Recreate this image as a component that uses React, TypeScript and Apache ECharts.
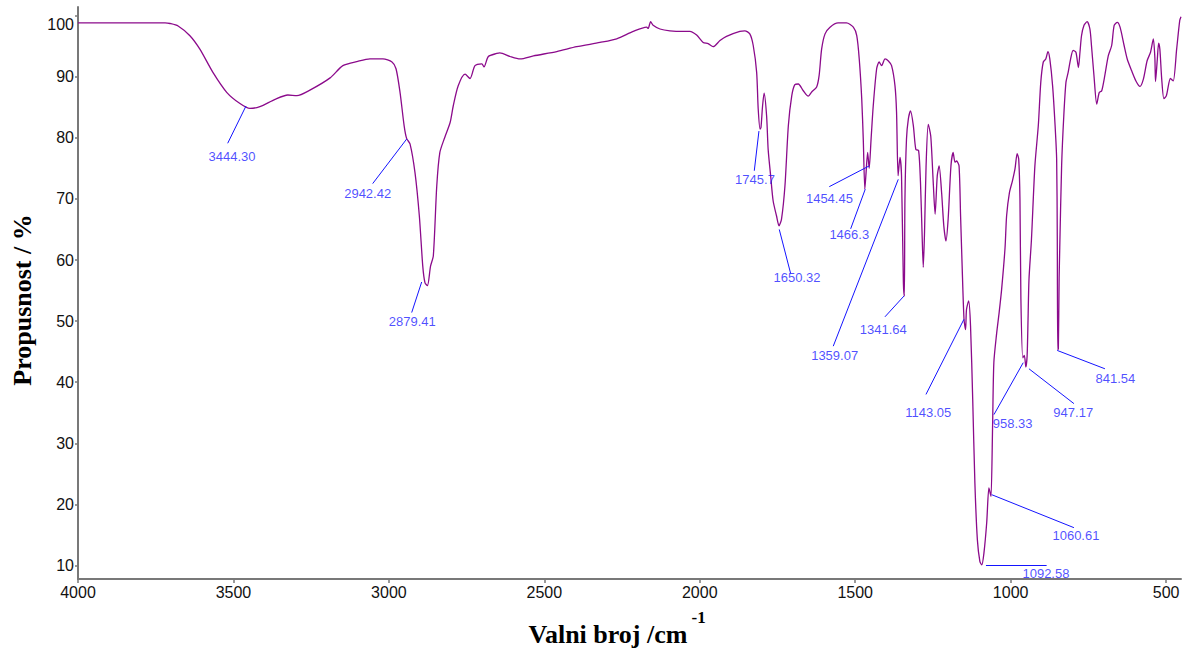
import React, { useEffect, useRef } from "react";
import * as echarts from "echarts";

// Spectrum: wavenumber (cm-1) and transmittance (%)
const wavenumbers = [
  4000, 3850, 3720, 3704, 3678, 3640, 3608, 3566, 3521, 3479, 3447, 3415, 3366, 3325, 3296, 3254, 3189, 3148, 3100, 3061,
  3019, 2990, 2977, 2964, 2951, 2943, 2932, 2916, 2902, 2891, 2884, 2876, 2866, 2857, 2846, 2836, 2820, 2803, 2793, 2777,
  2755, 2739, 2723, 2701, 2694, 2680, 2653, 2643, 2610, 2578, 2535, 2460, 2396, 2321, 2267, 2214, 2171, 2166, 2158, 2150,
  2128, 2096, 2053, 2032, 2010, 1989, 1973, 1957, 1935, 1914, 1871, 1855, 1839, 1828, 1817, 1812, 1806, 1803, 1798, 1793,
  1785, 1780, 1772, 1764, 1753, 1745, 1737, 1726, 1715, 1704, 1694, 1683, 1667, 1651, 1640, 1624, 1616, 1608, 1597, 1581,
  1555, 1528, 1506, 1495, 1487, 1479, 1474, 1469, 1465, 1460, 1455, 1449, 1442, 1431, 1423, 1415, 1404, 1394, 1383, 1372,
  1367, 1362, 1356, 1351, 1345, 1342, 1340, 1335, 1329, 1322, 1313, 1305, 1296, 1290, 1285, 1281, 1277, 1272, 1265, 1257,
  1249, 1243, 1236, 1230, 1222, 1215, 1208, 1201, 1192, 1185, 1179, 1174, 1166, 1161, 1156, 1150, 1145, 1142, 1135, 1129,
  1122, 1115, 1107, 1099, 1093, 1086, 1077, 1070, 1066, 1063, 1058, 1054, 1045, 1037, 1029, 1018, 1013, 1004, 994, 986,
  979, 974, 970, 967, 961, 956, 951, 947, 944, 941, 933, 922, 911, 903, 895, 887, 880, 874, 865, 857,
  852, 850, 848.5, 846.5, 844, 842, 836, 829, 822, 815, 807, 799, 790, 782, 777, 772, 764, 754, 745, 740,
  732, 723, 715, 707, 697, 686, 675, 667, 657, 648, 635, 625, 611, 597, 584, 573, 561, 550, 541, 536,
  534, 528, 524, 520, 514, 507, 499, 486, 477, 466, 456, 452
];
const transmittance = [
  98.8, 98.8, 98.8, 98.7, 98.3, 96.7, 94.5, 90.7, 87.4, 85.6, 84.8, 85.1, 86.3, 87.0, 86.9, 87.8, 89.8, 91.8, 92.5, 92.9,
  92.9, 92.4, 91.3, 87.4, 82.0, 79.9, 79.0, 74.3, 67.2, 59.0, 56.3, 55.8, 59.0, 60.7, 72.1, 77.6, 80.1, 82.5, 85.2, 88.5,
  90.4, 89.7, 91.8, 92.1, 91.6, 93.3, 93.8, 93.9, 93.3, 92.9, 93.4, 94.1, 94.9, 95.6, 96.2, 97.4, 98.1, 97.9, 99.0, 98.4,
  97.8, 97.5, 97.4, 97.4, 96.8, 95.6, 95.4, 94.9, 95.9, 96.6, 97.4, 97.5, 97.0, 95.1, 90.7, 84.7, 81.4, 81.7, 85.2, 87.3,
  83.6, 78.1, 73.8, 69.7, 67.2, 65.6, 66.7, 72.1, 82.0, 86.9, 88.7, 88.8, 87.7, 86.8, 87.5, 88.3, 90.2, 94.5, 97.0, 98.1,
  98.8, 98.8, 98.1, 96.7, 92.9, 86.4, 79.7, 71.6, 74.3, 77.6, 75.0, 79.7, 85.2, 91.3, 92.4, 91.8, 92.9, 92.6, 91.8, 88.5,
  84.2, 73.8, 76.8, 73.8, 56.3, 54.1, 69.9, 79.8, 83.1, 84.4, 82.0, 78.1, 77.9, 72.7, 64.5, 58.8, 64.5, 75.4, 82.2, 80.3,
  72.7, 67.5, 73.8, 75.4, 71.0, 65.6, 63.1, 66.7, 75.4, 77.6, 76.0, 76.2, 75.4, 67.2, 59.0, 50.3, 48.6, 51.9, 53.3, 49.2,
  37.2, 23.5, 14.2, 10.7, 10.1, 12.0, 17.0, 22.7, 21.9, 21.3, 33.0, 43.2, 48.0, 51.4, 55.2, 62.0, 67.2, 71.0, 73.0, 74.9,
  77.4, 76.5, 69.9, 53.6, 44.0, 44.4, 42.5, 44.3, 50.3, 56.8, 63.4, 75.4, 82.0, 89.1, 92.4, 92.9, 94.1, 92.9, 88.5, 82.0,
  76.5, 64.0, 45.3, 45.5, 57.0, 62.0, 75.4, 83.6, 89.1, 90.7, 92.9, 94.3, 94.0, 91.5, 94.0, 96.7, 98.4, 99.0, 97.8, 95.1,
  90.2, 85.5, 87.4, 87.7, 90.2, 93.4, 95.1, 98.4, 98.9, 98.1, 95.1, 92.9, 91.0, 89.3, 88.4, 89.6, 92.6, 94.0, 96.2, 93.0,
  89.2, 93.0, 95.5, 94.5, 89.6, 86.4, 86.9, 89.7, 89.3, 94.5, 99.2, 99.8
];

// Axis ticks
const xTicks = [4000, 3500, 3000, 2500, 2000, 1500, 1000, 500];
const yTicks = [10, 20, 30, 40, 50, 60, 70, 80, 90, 100];

// Peak annotations (data coordinates)
const peakLabels = ["3444.30", "2942.42", "2879.41", "1745.7", "1650.32", "1454.45", "1466.3", "1359.07", "1341.64", "1143.05", "958.33", "947.17", "841.54", "1060.61", "1092.58"];
const peakW = [3459.6, 2942.7, 2894.5, 1809.6, 1744.3, 1454.8, 1467.6, 1361.5, 1343.2, 1150.2, 959.5, 941.1, 850.1, 1061.1, 1079.4];
const peakT = [85.2, 79.8, 56.4, 81.1, 65.0, 75.4, 71.6, 73.2, 54.1, 50.3, 43.2, 42.2, 45.2, 21.6, 10.0];
const leaderW = [3518.5, 3052.1, 2926.6, 1824.6, 1707.7, 1583.4, 1514.6, 1570.6, 1404.3, 1272.4, 1053.7, 796.4, 696.7, 796.4, 884.2];
const leaderT = [79.1, 72.5, 51.4, 74.6, 57.8, 72.0, 65.1, 45.9, 50.7, 38.0, 34.7, 36.5, 42.2, 16.2, 10.0];
const labelW = [3504.7, 3068.2, 2924.7, 1822.4, 1687.4, 1582.9, 1519.1, 1566.1, 1409.8, 1265.1, 993.5, 798.6, 662.9, 789.9, 886.4];
const labelT = [76.9, 70.9, 49.9, 73.2, 57.1, 70.1, 64.2, 44.3, 48.6, 35.1, 33.3, 35.1, 40.6, 14.9, 8.75];

export default function App() {
  const ref = useRef<HTMLDivElement>(null);
  useEffect(() => {
    if (!ref.current) return;
    const chart = echarts.init(ref.current, undefined, { renderer: "svg" });
    const spectrum = wavenumbers.map((w, i) => [w, transmittance[i]]);
    const leaders = peakLabels.map((_, i) => ({
      coords: [
        [peakW[i], peakT[i]],
        [leaderW[i], leaderT[i]],
      ],
    }));
    const labels = peakLabels.map((l, i) => [labelW[i], labelT[i], l]);
    const axisColor = "#787878";
    const sans = '"Liberation Sans", Arial, sans-serif';
    const serif = '"Liberation Serif", "Times New Roman", serif';
    chart.setOption({
      animation: false,
      grid: { left: 78, right: 5, top: 7, bottom: 70 },
      xAxis: {
        type: "value",
        inverse: true,
        min: 452,
        max: 4000,
        axisLine: { show: true, onZero: false, lineStyle: { color: axisColor, width: 2 } },
        axisTick: { show: true, customValues: xTicks, length: 4, lineStyle: { color: axisColor, width: 1.5 } },
        axisLabel: {
          customValues: xTicks,
          color: "#111",
          fontSize: 16,
          fontFamily: sans,
          margin: 5,
          formatter: (v: number) => String(v),
        },
        splitLine: { show: false },
      },
      yAxis: {
        type: "value",
        min: 7.8,
        max: 101.4,
        axisLine: { show: true, onZero: false, lineStyle: { color: axisColor, width: 2 } },
        axisTick: { show: true, customValues: yTicks, length: 3, lineStyle: { color: axisColor, width: 1.5 } },
        axisLabel: {
          customValues: yTicks,
          color: "#111",
          fontSize: 16,
          fontFamily: sans,
          margin: 4,
          formatter: (v: number) => (v === 100 ? "{top|100}" : String(v)),
          rich: { top: { color: "#111", fontSize: 16, fontFamily: sans, padding: [18, 0, 0, 0] } },
        },
        splitLine: { show: false },
      },
      series: [
        {
          type: "line",
          data: spectrum,
          symbol: "none",
          smooth: 0.25,
          lineStyle: { color: "#8b0a8b", width: 1.3 },
          z: 2,
        },
        {
          type: "lines",
          coordinateSystem: "cartesian2d",
          data: leaders,
          lineStyle: { color: "#1414ff", width: 1, opacity: 1 },
          silent: true,
          z: 3,
        },
        {
          type: "scatter",
          data: labels,
          symbolSize: 1,
          itemStyle: { color: "rgba(0,0,0,0)" },
          silent: true,
          clip: false,
          label: {
            show: true,
            position: "inside",
            formatter: (p: any) => p.value[2],
            color: "#1f1fff",
            fontSize: 13,
            fontFamily: sans,
          },
          z: 4,
        },
      ],
      graphic: [
        {
          type: "text",
          x: 608,
          y: 634,
          style: { text: "Valni broj /cm", fontSize: 26, fontWeight: "bold", fontFamily: serif, fill: "#000", align: "center", verticalAlign: "middle" },
        },
        {
          type: "text",
          x: 691.5,
          y: 617.5,
          style: { text: "-1", fontSize: 17, fontWeight: "bold", fontFamily: serif, fill: "#000", align: "left", verticalAlign: "middle" },
        },
        {
          type: "text",
          x: 22,
          y: 300,
          rotation: Math.PI / 2,
          style: { text: "Propusnost / %", fontSize: 26, fontWeight: "bold", fontFamily: serif, fill: "#000", align: "center", verticalAlign: "middle" },
        },
      ],
    });
    return () => chart.dispose();
  }, []);
  return <div ref={ref} style={{ position: "absolute", left: 0, top: 0, width: 1186, height: 649 }} />;
}
